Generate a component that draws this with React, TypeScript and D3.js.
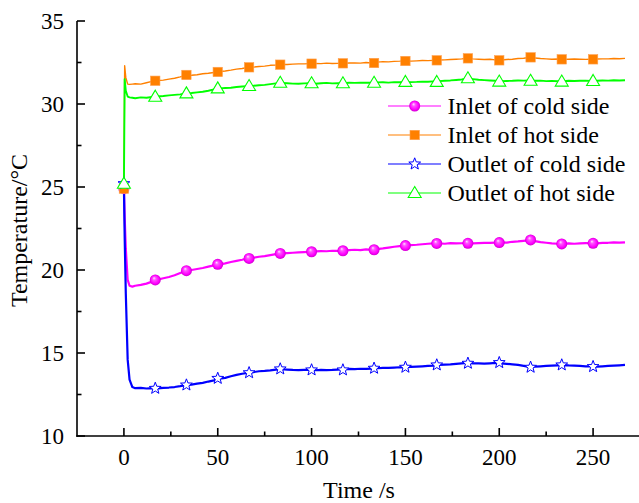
import React from "react";
import * as d3 from "d3";

const times = [0, 0.4, 1, 2, 3, 4.5,
  6, 9, 12, 15, 18, 21, 24, 27, 30, 33,
  36, 39, 42, 45, 48, 51, 54, 57, 60, 63,
  66, 69, 72, 75, 78, 81, 84, 87, 90, 93,
  96, 99, 102, 105, 108, 111, 114, 117, 120, 123,
  126, 129, 132, 135, 138, 141, 144, 147, 150, 153,
  156, 159, 162, 165, 168, 171, 174, 177, 180, 183,
  186, 189, 192, 195, 198, 201, 204, 207, 210, 213,
  216, 219, 222, 225, 228, 231, 234, 237, 240, 243,
  246, 249, 252, 255, 258, 261, 264, 267];

const inletHot = [25, 32.3, 31.6, 31.2, 31.18, 31.2,
  31.22, 31.2, 31.28, 31.36, 31.42, 31.44, 31.5, 31.55, 31.63, 31.72,
  31.73, 31.76, 31.82, 31.85, 31.9, 31.95, 31.99, 32.04, 32.1, 32.14,
  32.2, 32.22, 32.26, 32.28, 32.33, 32.35, 32.38, 32.38, 32.4, 32.42,
  32.42, 32.43, 32.44, 32.43, 32.46, 32.44, 32.45, 32.45, 32.47, 32.48,
  32.46, 32.5, 32.48, 32.52, 32.55, 32.54, 32.57, 32.58, 32.6, 32.58,
  32.6, 32.62, 32.61, 32.63, 32.65, 32.66, 32.68, 32.7, 32.72, 32.75,
  32.72, 32.7, 32.68, 32.7, 32.66, 32.65, 32.68, 32.7, 32.74, 32.76,
  32.8, 32.77, 32.74, 32.72, 32.7, 32.71, 32.69, 32.7, 32.71, 32.7,
  32.69, 32.7, 32.71, 32.72, 32.72, 32.74, 32.73, 32.75];

const outletHot = [25, 31.5, 30.8, 30.45, 30.4, 30.38,
  30.35, 30.4, 30.38, 30.42, 30.45, 30.48, 30.52, 30.55, 30.58, 30.63,
  30.66, 30.7, 30.74, 30.8, 30.88, 30.94, 30.96, 30.98, 31.02, 31.05,
  31.08, 31.1, 31.13, 31.15, 31.2, 31.24, 31.27, 31.25, 31.23, 31.22,
  31.24, 31.25, 31.22, 31.25, 31.27, 31.24, 31.26, 31.25, 31.28, 31.27,
  31.29, 31.28, 31.28, 31.3, 31.31, 31.29, 31.32, 31.31, 31.33, 31.32,
  31.33, 31.35, 31.34, 31.36, 31.38, 31.4, 31.42, 31.45, 31.48, 31.54,
  31.5, 31.46, 31.44, 31.42, 31.4, 31.38, 31.39, 31.4, 31.42, 31.41,
  31.42, 31.4, 31.41, 31.38, 31.39, 31.37, 31.38, 31.4, 31.39, 31.4,
  31.41, 31.39, 31.4, 31.42, 31.41, 31.43, 31.42, 31.43];

const inletCold = [25, 23.2, 21.3, 19.4, 19.05, 19.0,
  19.05, 19.1, 19.18, 19.3, 19.42, 19.5, 19.58, 19.68, 19.82, 19.94,
  20.0, 20.06, 20.12, 20.2, 20.28, 20.34, 20.4, 20.48, 20.55, 20.62,
  20.7, 20.74, 20.8, 20.84, 20.9, 20.96, 21.0, 21.02, 21.04, 21.06,
  21.08, 21.1, 21.12, 21.14, 21.13, 21.16, 21.15, 21.17, 21.2, 21.22,
  21.2, 21.24, 21.22, 21.26, 21.3, 21.35, 21.4, 21.44, 21.47, 21.5,
  21.52, 21.55, 21.58, 21.6, 21.6, 21.58, 21.62, 21.6, 21.61, 21.62,
  21.6, 21.62, 21.63, 21.64, 21.65, 21.66, 21.65, 21.7, 21.72, 21.76,
  21.8, 21.74, 21.68, 21.64, 21.6, 21.58, 21.57, 21.6, 21.58, 21.6,
  21.62, 21.61, 21.6, 21.63, 21.64, 21.66, 21.65, 21.67];

const outletCold = [25, 22.0, 18.6, 14.6, 13.4, 12.95,
  12.88, 12.9, 12.86, 12.88, 12.87, 12.9, 12.92, 12.95, 13.0, 13.06,
  13.1, 13.15, 13.2, 13.28, 13.35, 13.45, 13.5, 13.6, 13.68, 13.75,
  13.8, 13.85, 13.9, 13.92, 13.95, 14.0, 14.02, 14.0, 13.98, 13.97,
  13.98, 13.98, 13.96, 13.98, 13.97, 13.98, 14.0, 14.02, 14.04, 14.03,
  14.05, 14.04, 14.06, 14.08, 14.1, 14.1, 14.12, 14.14, 14.15, 14.16,
  14.18, 14.2, 14.22, 14.24, 14.28, 14.3, 14.32, 14.35, 14.38, 14.4,
  14.38, 14.37, 14.36, 14.38, 14.4, 14.38, 14.35, 14.32, 14.28, 14.22,
  14.16, 14.18, 14.2, 14.22, 14.24, 14.26, 14.27, 14.25, 14.24, 14.22,
  14.2, 14.19, 14.18, 14.2, 14.22, 14.24, 14.26, 14.28];

const markerTimes = [0, 16.7, 33.3, 50, 66.7, 83.3, 100, 116.7, 133.3, 150, 166.7, 183.3, 200, 216.7, 233.3, 250];
const inletColdMarks = [24.9, 19.4, 19.96, 20.34, 20.7, 21.0, 21.1, 21.16, 21.22, 21.47, 21.6, 21.61, 21.65, 21.81, 21.57, 21.61];
const inletHotMarks = [24.9, 31.4, 31.75, 31.93, 32.21, 32.37, 32.43, 32.45, 32.47, 32.59, 32.63, 32.75, 32.63, 32.81, 32.69, 32.69];
const outletColdMarks = [25.2, 12.87, 13.07, 13.47, 13.81, 14.04, 13.98, 13.98, 14.08, 14.14, 14.28, 14.38, 14.42, 14.14, 14.28, 14.18];
const outletHotMarks = [25.2, 30.44, 30.64, 30.94, 31.08, 31.28, 31.25, 31.25, 31.28, 31.33, 31.33, 31.55, 31.35, 31.4, 31.35, 31.39];

const seriesNames = ["Inlet of cold side", "Inlet of hot side", "Outlet of cold side", "Outlet of hot side"];
const xMajor = [0, 50, 100, 150, 200, 250];
const xMinor = [25, 75, 125, 175, 225];
const yMajor = [10, 15, 20, 25, 30, 35];
const yMinor = [12.5, 17.5, 22.5, 27.5, 32.5];

const FONT = "'Liberation Serif', 'Times New Roman', serif";

function Marker({ kind, x, y }: { kind: string; x: number; y: number }) {
  if (kind === "circle") {
    return <circle cx={x} cy={y} r={5.5} fill="url(#sphere)" />;
  }
  if (kind === "square") {
    return <rect x={x - 4.7} y={y - 4.7} width={9.4} height={9.4} fill="#FF8000" stroke="#FFA050" strokeWidth={0.6} />;
  }
  if (kind === "star") {
    const pts: string[] = [];
    for (let i = 0; i < 10; i++) {
      const r = i % 2 === 0 ? 6.2 : 2.6;
      const a = -Math.PI / 2 + (i * Math.PI) / 5;
      pts.push(`${x + r * Math.cos(a)},${y + r * Math.sin(a)}`);
    }
    return <polygon points={pts.join(" ")} fill="white" stroke="#0000FF" strokeWidth={1} />;
  }
  return (
    <polygon
      points={`${x},${y - 6.5} ${x + 6.5},${y + 4.5} ${x - 6.5},${y + 4.5}`}
      fill="white"
      stroke="#00FF00"
      strokeWidth={1.1}
    />
  );
}

export default function App() {
  const W = 639, H = 503;
  const x = d3.scaleLinear().domain([-25, 275]).range([77, 640]);
  const y = d3.scaleLinear().domain([10, 35]).range([436, 21]);

  const series = [
    { name: seriesNames[0], vals: inletCold, marks: inletColdMarks, color: "#FF00FF", kind: "circle", w: 2.2 },
    { name: seriesNames[1], vals: inletHot, marks: inletHotMarks, color: "#FF8000", kind: "square", w: 1.4 },
    { name: seriesNames[2], vals: outletCold, marks: outletColdMarks, color: "#0000FF", kind: "star", w: 2.2 },
    { name: seriesNames[3], vals: outletHot, marks: outletHotMarks, color: "#00FF00", kind: "triangle", w: 1.9 },
  ];

  const line = d3.line<number>().x((_, i) => x(times[i])).y((d) => y(d));

  const x0 = x(-25), yb = y(10), yt = y(35), xr = x(275);

  return (
    <svg width={W} height={H} style={{ position: "absolute", left: 0, top: 0, background: "white" }} fontFamily={FONT}>
      <defs>
        <radialGradient id="sphere" cx="0.5" cy="0.5" r="0.5" fx="0.38" fy="0.32">
          <stop offset="0%" stopColor="#FFE6FF" />
          <stop offset="30%" stopColor="#FF55FF" />
          <stop offset="75%" stopColor="#FF00FF" />
          <stop offset="100%" stopColor="#D000D0" />
        </radialGradient>
      </defs>
      <rect x={0} y={0} width={W} height={H} fill="white" />

      {series.map((s) => (
        <path key={s.name} d={line(s.vals) || ""} fill="none" stroke={s.color} strokeWidth={s.w} strokeLinejoin="round" />
      ))}
      {series.map((s) => (
        <g key={s.name + "m"}>
          {s.marks.map((v, i) => (
            <Marker key={i} kind={s.kind} x={x(markerTimes[i])} y={y(v)} />
          ))}
        </g>
      ))}

      {/* axes */}
      <g stroke="black" strokeWidth={1.6} fill="none">
        <line x1={x0} y1={yt} x2={x0} y2={yb + 0.8} />
        <line x1={x0 - 0.8} y1={yb} x2={xr} y2={yb} />
        {xMajor.map((t) => (
          <line key={"xM" + t} x1={x(t)} x2={x(t)} y1={yb} y2={yb - 8} />
        ))}
        {xMinor.map((t) => (
          <line key={"xm" + t} x1={x(t)} x2={x(t)} y1={yb} y2={yb - 4.5} />
        ))}
        {yMajor.map((t) => (
          <line key={"yM" + t} x1={x0} x2={x0 + 8} y1={y(t)} y2={y(t)} />
        ))}
        {yMinor.map((t) => (
          <line key={"ym" + t} x1={x0} x2={x0 + 4.5} y1={y(t)} y2={y(t)} />
        ))}
      </g>
      <g fontSize={23} fill="black">
        {xMajor.map((t) => (
          <text key={"xl" + t} x={x(t)} y={yb + 29} textAnchor="middle">{t}</text>
        ))}
        {yMajor.map((t) => (
          <text key={"yl" + t} x={64} y={y(t) + 8} textAnchor="end">{t}</text>
        ))}
      </g>
      <text x={359} y={498} fontSize={24} textAnchor="middle" fill="black">Time /s</text>
      <text transform={`translate(27, ${(yt + yb) / 2 + 2}) rotate(-90)`} fontSize={24} textAnchor="middle" fill="black">
        Temperature/°C
      </text>

      {/* legend */}
      {series.map((s, i) => {
        const cy = 106 + i * 29;
        return (
          <g key={"lg" + i}>
            <line x1={388} x2={441} y1={cy} y2={cy} stroke={s.color} strokeWidth={1.2} />
            <Marker kind={s.kind} x={414.7} y={cy} />
            <text x={447.5} y={cy + 7.5} fontSize={24} fill="black">{s.name}</text>
          </g>
        );
      })}
    </svg>
  );
}
